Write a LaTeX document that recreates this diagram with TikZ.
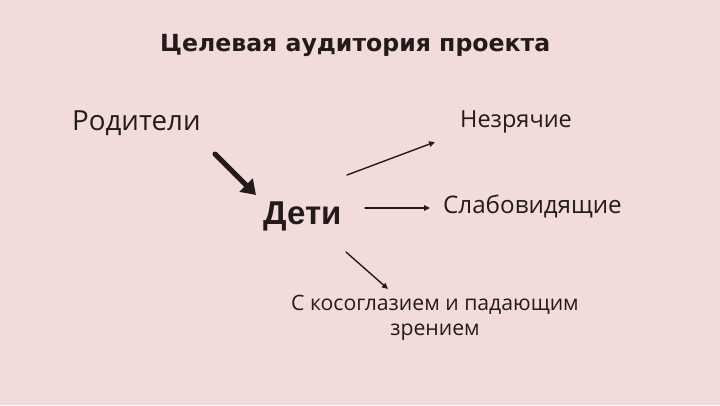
\documentclass[tikz,border=0pt]{standalone}
\usepackage{fontspec}
\setmainfont{Open Sans}
\newfontfamily\titlefont{DejaVu Sans}
\newfontfamily\boldsans{Liberation Sans}
\usetikzlibrary{arrows.meta, positioning}

\definecolor{slidepink}{HTML}{F2DCDB}
\definecolor{inkbrown}{HTML}{231A1A}

\tikzset{
  label text/.style={text=inkbrown, inner sep=0pt, anchor=base west},
  thin arrow/.style={draw=inkbrown, line width=1.4pt, -{Triangle[length=6pt, width=5.5pt]}},
  fat arrow/.style={draw=inkbrown, line width=5pt, -{Triangle[length=14pt, width=18pt]}},
}

\begin{document}
\begin{tikzpicture}[x=1pt, y=-1pt, line join=round, line cap=round]
% Background
\fill[slidepink] (0,0) rectangle (720,405);
\useasboundingbox (0,0) rectangle (720,405);

% Title
\node[label text, font=\titlefont\bfseries\fontsize{23.6}{28}\selectfont] (title) at (160,51) {Целевая аудитория проекта};

% Audience groups
\node[label text, font=\fontsize{27.7}{32}\selectfont] (parents) at (72,130) {Родители};
\node[label text, font=\boldsans\bfseries\fontsize{33}{36}\selectfont] (kids) at (263,224) {Дети};
\node[label text, font=\fontsize{23.5}{28}\selectfont] (blind) at (460,127) {Незрячие};
\node[label text, font=\fontsize{24.2}{28}\selectfont] (lowvision) at (443,213) {Слабовидящие};
\node[text=inkbrown, inner sep=0pt, align=center, font=\fontsize{21.2}{25}\selectfont] (squint) at (435,318) {С косоглазием и падающим\\зрением};

% Arrow ends
\coordinate (parentsout) at (215,154);
\coordinate (kidsin) at (256,195);
\coordinate (kidsup) at (347,175);
\coordinate (blindin) at (435,142);
\coordinate (kidsright) at (365,208);
\coordinate (lowin) at (430,208);
\coordinate (kidsdown) at (346,252);
\coordinate (squintin) at (388,289);

% Connectors
\draw[fat arrow] (parentsout) -- (kidsin);
\draw[thin arrow] (kidsup) -- (blindin);
\draw[thin arrow] (kidsright) -- (lowin);
\draw[thin arrow] (kidsdown) -- (squintin);
\end{tikzpicture}
\end{document}
